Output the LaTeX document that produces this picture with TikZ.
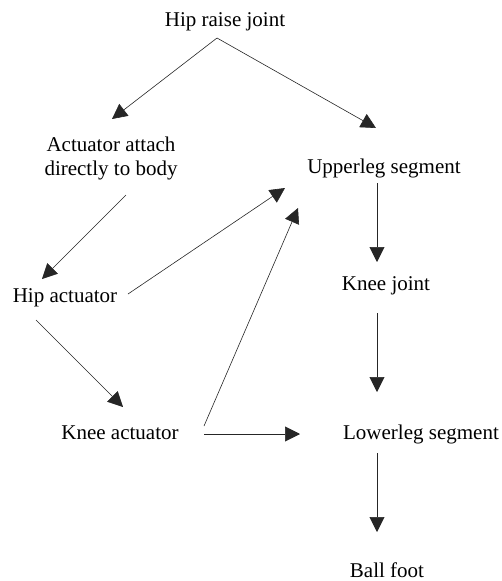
\documentclass[tikz,border=0pt]{standalone}
\usepackage{fontspec}
\setmainfont{Liberation Serif}
\usetikzlibrary{arrows.meta}
\begin{document}
\begin{tikzpicture}[x=1pt,y=-1pt,
  lbl/.style={inner sep=0pt,anchor=base,font=\fontsize{21}{24}\selectfont},
  link/.style={draw=black!85,line width=0.6pt,-{Triangle[length=15pt,width=15pt]}}]
\useasboundingbox (0,0) rectangle (502,581);

% labels
\node[lbl] (hipraise) at (225,26) {Hip raise joint};
\node[lbl,align=center] (attach) at (111,175) {Actuator attach\\directly to body};
\node[lbl] (upper) at (384,173) {Upperleg segment};
\node[lbl] (hipact) at (65,302) {Hip actuator};
\node[lbl] (kneej) at (386,290) {Knee joint};
\node[lbl] (kneeact) at (120,439) {Knee actuator};
\node[lbl] (lower) at (421,439) {Lowerleg segment};
\node[lbl] (ball) at (387,577) {Ball foot};

% connector end points
\coordinate (hipraise-out) at (217,38);
\coordinate (attach-in) at (112,119);
\coordinate (upper-in-a) at (376,128);
\coordinate (attach-out) at (126,195);
\coordinate (hipact-in) at (42,279);
\coordinate (hipact-out-a) at (128,294);
\coordinate (upper-in-b) at (285,188);
\coordinate (kneeact-out-a) at (204,426);
\coordinate (upper-in-c) at (298,208);
\coordinate (hipact-out-b) at (36,320);
\coordinate (kneeact-in) at (123,407);
\coordinate (kneeact-out-b) at (204,434);
\coordinate (lower-in-a) at (300,434);
\coordinate (upper-out) at (377,183);
\coordinate (kneej-in) at (377,262);
\coordinate (kneej-out) at (377,313);
\coordinate (lower-in-b) at (377,392);
\coordinate (lower-out) at (377,453);
\coordinate (ball-in) at (377,532);

% connectors
\draw[link] (hipraise-out) -- (attach-in);
\draw[link] (hipraise-out) -- (upper-in-a);
\draw[link] (attach-out) -- (hipact-in);
\draw[link] (hipact-out-a) -- (upper-in-b);
\draw[link] (kneeact-out-a) -- (upper-in-c);
\draw[link] (hipact-out-b) -- (kneeact-in);
\draw[link] (kneeact-out-b) -- (lower-in-a);
\draw[link] (upper-out) -- (kneej-in);
\draw[link] (kneej-out) -- (lower-in-b);
\draw[link] (lower-out) -- (ball-in);
\end{tikzpicture}
\end{document}
